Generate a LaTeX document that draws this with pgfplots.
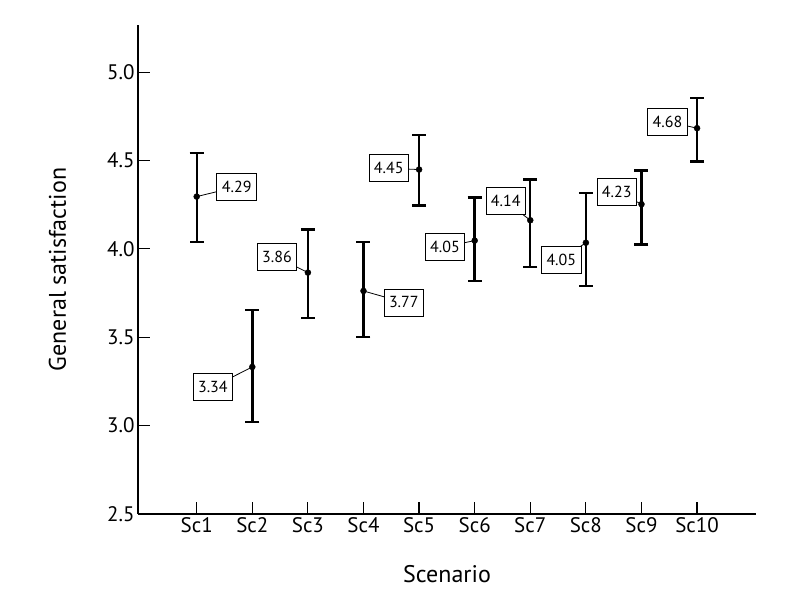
\documentclass[border=0pt]{standalone}
\usepackage{fontspec}
\setmainfont{PT Sans}
\usepackage{pgfplots}
\pgfplotsset{compat=1.18}
\usepackage{pgfplotstable}

% mean, upper and lower error
\pgfplotstableread{
x  y      ep     em
1  4.296  0.247  0.257
2  3.332  0.322  0.311
3  3.866  0.243  0.257
4  3.762  0.277  0.260
5  4.449  0.196  0.204
6  4.047  0.243  0.227
7  4.162  0.230  0.264
8  4.035  0.282  0.245
9  4.253  0.190  0.229
10 4.683  0.171  0.189
}\scdata

\tikzset{lbl/.style={draw, line width=0.8bp, fill=white, inner xsep=5bp, minimum height=27bp,
  font=\fontsize{16bp}{18bp}\selectfont}}

\begin{document}
\begin{tikzpicture}
\begin{axis}[
  scale only axis,
  width=618bp, height=489bp,
  xmin=-0.056, xmax=11.06,
  ymin=2.5, ymax=5.267,
  axis x line*=bottom, axis y line*=left,
  axis line style={line width=2.4bp, -},
  tick align=inside,
  major tick length=12bp,
  tick style={line width=1.2bp, black},
  xtick={1,...,10},
  xticklabels={Sc1,Sc2,Sc3,Sc4,Sc5,Sc6,Sc7,Sc8,Sc9,Sc10},
  ytick={2.5,3,3.5,4,4.5,5},
  /pgf/number format/assume math mode=true,
  yticklabel style={/pgf/number format/fixed, /pgf/number format/fixed zerofill,
    /pgf/number format/precision=1},
  ticklabel style={font=\fontsize{21bp}{25bp}\selectfont},
  xlabel={Scenario},
  ylabel={General satisfaction},
  label style={font=\fontsize{24bp}{28bp}\selectfont},
  xlabel shift=26bp,
  ylabel shift=34bp,
  clip=false,
]
\path (rel axis cs:-0.2233,-0.2004) rectangle (rel axis cs:1.0712,1.0511);

\draw[line width=0.8bp] (axis cs:1,4.296) -- (axis cs:1.719,4.351) node[lbl]{4.29};
\draw[line width=0.8bp] (axis cs:2,3.332) -- (axis cs:1.290,3.219) node[lbl]{3.34};
\draw[line width=0.8bp] (axis cs:3,3.866) -- (axis cs:2.444,3.954) node[lbl]{3.86};
\draw[line width=0.8bp] (axis cs:4,3.762) -- (axis cs:4.725,3.697) node[lbl]{3.77};
\draw[line width=0.8bp] (axis cs:5,4.449) -- (axis cs:4.455,4.456) node[lbl]{4.45};
\draw[line width=0.8bp] (axis cs:6,4.047) -- (axis cs:5.466,4.012) node[lbl]{4.05};
\draw[line width=0.8bp] (axis cs:7,4.162) -- (axis cs:6.559,4.269) node[lbl]{4.14};
\draw[line width=0.8bp] (axis cs:8,4.035) -- (axis cs:7.558,3.940) node[lbl]{4.05};
\draw[line width=0.8bp] (axis cs:9,4.253) -- (axis cs:8.556,4.324) node[lbl]{4.23};
\draw[line width=0.8bp] (axis cs:10,4.683) -- (axis cs:9.468,4.721) node[lbl]{4.68};

\addplot[only marks, mark=*, mark size=3bp, black,
  error bars/.cd, y dir=both, y explicit,
  error bar style={line width=2.4bp, black},
  error mark options={rotate=90, mark size=7bp, line width=2.4bp, black}]
  table[x=x, y=y, y error plus=ep, y error minus=em] {\scdata};
\end{axis}
\end{tikzpicture}
\end{document}
